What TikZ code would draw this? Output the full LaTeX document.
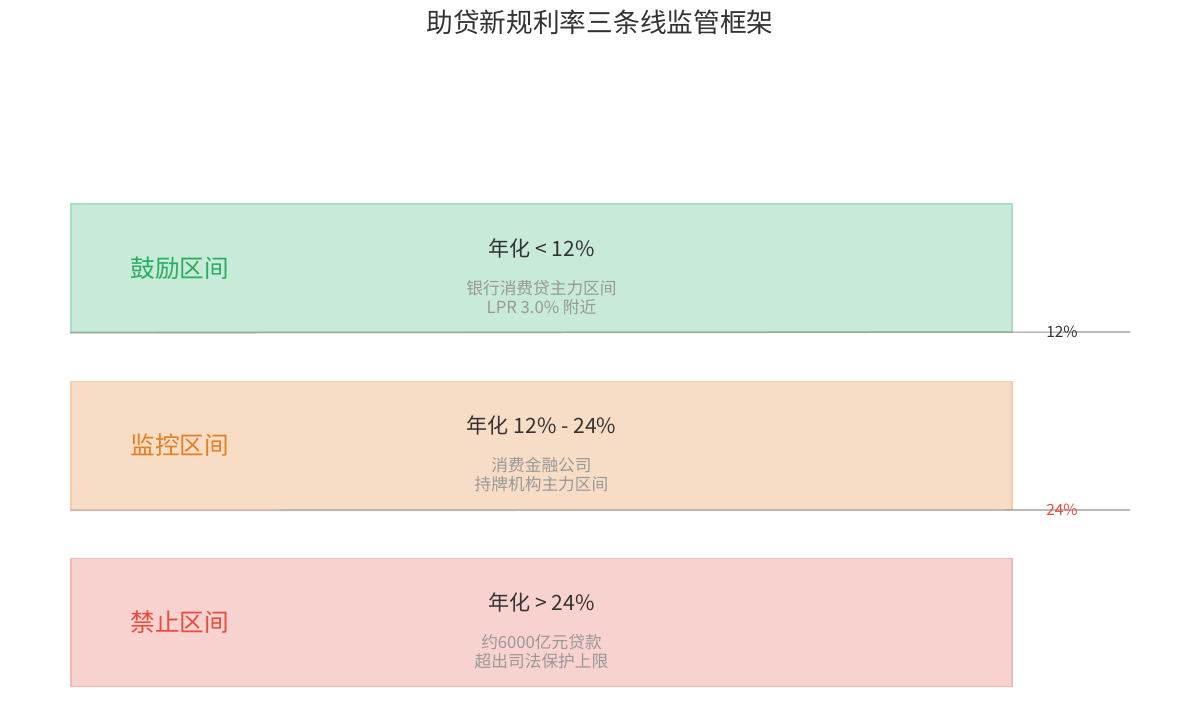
\documentclass[tikz,border=0pt]{standalone}
\usepackage{fontspec}
\setmainfont{Noto Sans CJK SC}
\usetikzlibrary{positioning}
\definecolor{goodfill}{HTML}{C8EAD8}
\definecolor{gooddraw}{HTML}{A9DEC2}
\definecolor{goodtext}{HTML}{27AE60}
\definecolor{watchfill}{HTML}{F8DDC6}
\definecolor{watchdraw}{HTML}{F6CCA5}
\definecolor{watchtext}{HTML}{E67E22}
\definecolor{banfill}{HTML}{F8D2CF}
\definecolor{bandraw}{HTML}{F5B9B3}
\definecolor{bantext}{HTML}{E74C3C}
\definecolor{maintext}{HTML}{333333}
\definecolor{subtext}{HTML}{999999}
\tikzstyle{zone}=[draw,rectangle,line width=1pt,minimum width=18.82cm,minimum height=2.56cm]
\tikzstyle{zonename}=[anchor=west,font=\fontsize{14}{16}\selectfont]
\tikzstyle{rate}=[text=maintext,font=\fontsize{12}{14}\selectfont]
\tikzstyle{note}=[text=subtext,align=center,font=\fontsize{9.5}{10.8}\selectfont]
\tikzstyle{limit}=[draw=black!45,line width=0.9pt,opacity=0.6]
\tikzstyle{limitlabel}=[font=\fontsize{8.8}{10}\selectfont]

\begin{document}
\begin{tikzpicture}[x=0.02cm,y=-0.02cm]
  \useasboundingbox (0,0) rectangle (1200,715);
  \node[text=maintext,font=\fontsize{15.2}{17}\selectfont] (title) at (600,22) {助贷新规利率三条线监管框架};
  % zones
  \node[zone,fill=goodfill,draw=gooddraw] (good) at (541.5,268) {};
  \node[zone,fill=watchfill,draw=watchdraw] (watch) at (541.5,445.5) {};
  \node[zone,fill=banfill,draw=bandraw] (ban) at (541.5,622.5) {};
  \node[zonename,text=goodtext] (goodname) at ([xshift=1.08cm]good.west) {鼓励区间};
  \node[zonename,text=watchtext] (watchname) at ([xshift=1.08cm]watch.west) {监控区间};
  \node[zonename,text=bantext] (banname) at ([xshift=1.08cm]ban.west) {禁止区间};
  \node[rate] (goodrate) at ([yshift=0.4cm]good.center) {年化 < 12\%};
  \node[rate] (watchrate) at ([yshift=0.4cm]watch.center) {年化 12\% - 24\%};
  \node[rate] (banrate) at ([yshift=0.4cm]ban.center) {年化 > 24\%};
  \node[note] (goodnote) at ([yshift=-0.59cm]good.center) {银行消费贷主力区间\\LPR 3.0\% 附近};
  \node[note] (watchnote) at ([yshift=-0.59cm]watch.center) {消费金融公司\\持牌机构主力区间};
  \node[note] (bannote) at ([yshift=-0.59cm]ban.center) {约6000亿元贷款\\超出司法保护上限};
  % rate lines
  \coordinate (end12) at (1130,332);
  \coordinate (end24) at (1130,510);
  \draw[limit] (good.south west) -- (end12);
  \draw[limit] (watch.south west) -- (end24);
  \node[limitlabel,text=maintext] (lab12) at (1062,332) {12\%};
  \node[limitlabel,text=bantext] (lab24) at (1062,510) {24\%};
\end{tikzpicture}
\end{document}
